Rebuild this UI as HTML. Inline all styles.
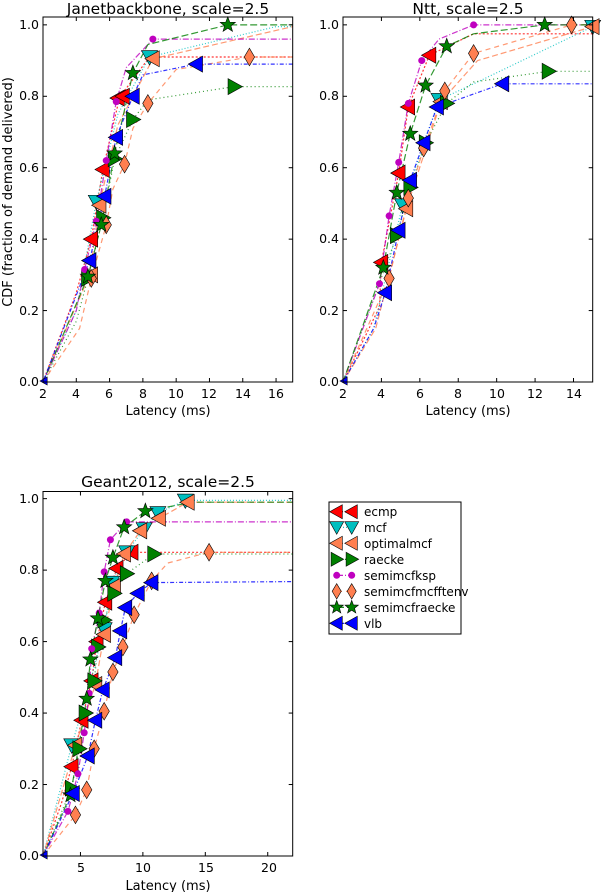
<!DOCTYPE html>
<html><head><meta charset="utf-8"><style>
html,body{margin:0;padding:0;background:#fff;}
svg{display:block;font-family:"DejaVu Sans","Liberation Sans",sans-serif;}
</style></head><body>
<svg id="s" width="603" height="892" viewBox="0 0 603 892" xmlns="http://www.w3.org/2000/svg">
<rect width="603" height="892" fill="#fff"/>
<g id="plots"></g>
<g font-size="15.5" fill="#000" text-anchor="middle">
<text x="168" y="14">Janetbackbone, scale=2.5</text>
<text x="468" y="14">Ntt, scale=2.5</text>
<text x="168" y="487">Geant2012, scale=2.5</text>
</g>
<g font-size="13" fill="#000" text-anchor="middle">
<text x="168" y="415">Latency (ms)</text>
<text x="468" y="415">Latency (ms)</text>
<text x="168" y="890">Latency (ms)</text>
<text transform="translate(12,192) rotate(-90)">CDF (fraction of demand delivered)</text>
</g>
<g font-size="12.5" fill="#000" text-anchor="end">
<text x="39" y="29">1.0</text><text x="39" y="100">0.8</text><text x="39" y="172">0.6</text><text x="39" y="243">0.4</text><text x="39" y="315">0.2</text><text x="39" y="386">0.0</text>
<text x="339" y="29">1.0</text><text x="339" y="100">0.8</text><text x="339" y="172">0.6</text><text x="339" y="243">0.4</text><text x="339" y="315">0.2</text><text x="339" y="386">0.0</text>
<text x="39" y="503">1.0</text><text x="39" y="574">0.8</text><text x="39" y="646">0.6</text><text x="39" y="717">0.4</text><text x="39" y="789">0.2</text><text x="39" y="860">0.0</text>
</g>
<g font-size="12.5" fill="#000" text-anchor="middle">
<text x="43" y="398">2</text><text x="76" y="398">4</text><text x="109" y="398">6</text><text x="143" y="398">8</text><text x="176" y="398">10</text><text x="209" y="398">12</text><text x="243" y="398">14</text><text x="276" y="398">16</text>
<text x="343" y="398">2</text><text x="381" y="398">4</text><text x="420" y="398">6</text><text x="458" y="398">8</text><text x="497" y="398">10</text><text x="535" y="398">12</text><text x="574" y="398">14</text>
<text x="81" y="872">5</text><text x="143" y="872">10</text><text x="206" y="872">15</text><text x="269" y="872">20</text>
</g>
<rect x="329" y="502" width="132" height="132" fill="#fff" stroke="#000" stroke-width="1"/>
<g id="leg"></g>
<g font-size="12" fill="#000">
<text x="364" y="516">ecmp</text>
<text x="364" y="532">mcf</text>
<text x="364" y="548">optimalmcf</text>
<text x="364" y="564">raecke</text>
<text x="364" y="580">semimcfksp</text>
<text x="364" y="596">semimcfmcfftenv</text>
<text x="364" y="612">semimcfraecke</text>
<text x="364" y="628">vlb</text>
</g>
</svg>
<script>
var NS="http://www.w3.org/2000/svg";
function el(p,t,a){var e=document.createElementNS(NS,t);for(var k in a)e.setAttribute(k,a[k]);p.appendChild(e);return e;}
var S={
ecmp:{c:"#ff0000",m:"L",d:"2,2"},
mcf:{c:"#00bfbf",m:"V",d:"1,2"},
opt:{c:"#ff7f50",m:"L",d:"6,3"},
rae:{c:"#008000",m:"R",d:"1,3"},
ksp:{c:"#bf00bf",m:"O",d:"6,2,1,2"},
dia:{c:"#ff7f50",m:"D",d:"5,4"},
star:{c:"#008000",m:"S",d:"7,3"},
vlb:{c:"#0000ff",m:"L",d:"1,2,4,2"}
};
function marker(g,m,x,y,c,r){
 r=r||8;var a={fill:c,stroke:"#000","stroke-width":0.6};
 if(m=="L"){a.points=(x-r)+","+y+" "+(x+r*0.8)+","+(y-r)+" "+(x+r*0.8)+","+(y+r);el(g,"polygon",a);}
 else if(m=="R"){a.points=(x+r)+","+y+" "+(x-r*0.8)+","+(y-r)+" "+(x-r*0.8)+","+(y+r);el(g,"polygon",a);}
 else if(m=="V"){a.points=(x-r)+","+(y-r*0.8)+" "+(x+r)+","+(y-r*0.8)+" "+x+","+(y+r);el(g,"polygon",a);}
 else if(m=="D"){a.points=x+","+(y-r*1.1)+" "+(x+r*0.65)+","+y+" "+x+","+(y+r*1.1)+" "+(x-r*0.65)+","+y;el(g,"polygon",a);}
 else if(m=="O"){a.cx=x;a.cy=y;a.r=3.5;a.stroke="none";el(g,"circle",a);}
 else if(m=="S"){var p=[];for(var i=0;i<10;i++){var ang=-Math.PI/2+i*Math.PI/5,rr=i%2?r*0.42:r;p.push((x+rr*Math.cos(ang))+","+(y+rr*Math.sin(ang)));}a.points=p.join(" ");el(g,"polygon",a);}
}
var P=[
{x0:43,x1:292.7,xa:2,xb:17,y0:382,yt:17,ymax:1.022,xt:[2,4,6,8,10,12,14,16],
D:{
ecmp:[[2,0],[4,0.25],[4.9,0.4],[5.6,0.595],[6.6,0.797],[8.4,0.91],[17,0.91]],
mcf:[[2,0],[4,0.2],[5.2,0.505],[6.5,0.75],[8.4,0.91],[16,0.995],[17,0.995]],
opt:[[2,0],[4.8,0.3],[5.4,0.5],[6.5,0.72],[8.6,0.905],[17,0.995]],
rae:[[2,0],[4,0.17],[4.7,0.29],[5.6,0.46],[6.3,0.625],[7.4,0.735],[8.3,0.79],[13.5,0.827],[17,0.827]],
ksp:[[2,0],[4,0.2],[4.5,0.315],[5.2,0.45],[5.8,0.62],[6.4,0.785],[7,0.88],[8.6,0.96],[17,0.96]],
dia:[[2,0],[4.2,0.15],[4.9,0.29],[5.8,0.44],[6.2,0.54],[6.9,0.61],[7.4,0.71],[8.3,0.78],[10,0.875],[14.4,0.91],[17,0.91]],
star:[[2,0],[4.7,0.295],[5.5,0.44],[6.3,0.64],[7.4,0.865],[8.3,0.945],[13.1,1.0],[17,1.0]],
vlb:[[2,0],[4.8,0.34],[5.7,0.52],[6.4,0.685],[7.4,0.8],[8,0.86],[11.2,0.89],[17,0.89]]},
M:{ecmp:[[4.9,0.4],[5.6,0.595],[6.5,0.795],[6.8,0.8]],mcf:[[5.2,0.505],[8.4,0.91]],opt:[[4.9,0.3],[5.4,0.495],[8.6,0.905]],
rae:[[4.7,0.29],[5.6,0.46],[6.3,0.625],[7.4,0.735],[13.5,0.827]],ksp:[[4.5,0.315],[5.2,0.45],[5.8,0.62],[6.4,0.785],[8.6,0.96]],
dia:[[4.9,0.29],[5.8,0.44],[6.9,0.61],[8.3,0.78],[14.4,0.91]],star:[[4.7,0.295],[5.5,0.44],[6.3,0.64],[7.4,0.865],[13.1,1.0]],
vlb:[[4.8,0.34],[5.7,0.52],[6.4,0.685],[7.4,0.8],[11.2,0.89]]}},
{x0:343,x1:592.7,xa:2,xb:15,y0:382,yt:17,ymax:1.022,xt:[2,4,6,8,10,12,14],
D:{
ecmp:[[2,0],[3.9,0.21],[4.0,0.335],[4.9,0.585],[5.4,0.77],[6.5,0.915],[8.8,0.975],[15,0.975]],
mcf:[[2,0],[3.6,0.15],[5.1,0.495],[7.0,0.79],[9,0.84],[15,0.995]],
opt:[[2,0],[3.7,0.15],[5.3,0.485],[7.1,0.785],[9,0.9],[15,0.995]],
rae:[[2,0],[4.8,0.41],[5.5,0.545],[6.3,0.67],[7.4,0.78],[8.8,0.84],[12.7,0.87],[15,0.87]],
ksp:[[2,0],[3.9,0.275],[4.4,0.465],[4.9,0.615],[5.4,0.78],[6.1,0.9],[7,0.96],[8.8,1.0],[15,1.0]],
dia:[[2,0],[4.4,0.29],[5.4,0.515],[6.2,0.655],[7.3,0.815],[8.8,0.92],[13.9,1.0],[15,1.0]],
star:[[2,0],[4.1,0.32],[4.8,0.53],[5.5,0.695],[6.3,0.83],[7.4,0.94],[8.8,0.975],[12.5,1.0],[15,1.0]],
vlb:[[2,0],[3.6,0.15],[4.2,0.25],[4.9,0.425],[5.5,0.565],[6.2,0.67],[6.9,0.77],[10.3,0.835],[15,0.835]]},
M:{ecmp:[[4.0,0.335],[4.9,0.585],[5.4,0.77],[6.5,0.915]],mcf:[[5.1,0.495],[7.0,0.79],[15,0.995]],opt:[[5.3,0.485],[7.1,0.785],[15,0.995]],
rae:[[4.8,0.41],[5.5,0.545],[6.3,0.67],[7.4,0.78],[12.7,0.87]],ksp:[[3.9,0.275],[4.4,0.465],[4.9,0.615],[5.4,0.78],[6.1,0.9],[8.8,1.0]],
dia:[[4.4,0.29],[5.4,0.515],[6.2,0.655],[7.3,0.815],[8.8,0.92],[13.9,1.0]],star:[[4.1,0.32],[4.8,0.53],[5.5,0.695],[6.3,0.83],[7.4,0.94],[12.5,1.0]],
vlb:[[4.2,0.25],[4.9,0.425],[5.5,0.565],[6.2,0.67],[6.9,0.77],[10.3,0.835]]}},
{x0:43,x1:292.7,xa:2,xb:22,y0:856,yt:491.5,ymax:1.02,xt:[5,10,15,20],
D:{
ecmp:[[2,0],[3.5,0.15],[4.3,0.25],[5.1,0.38],[5.9,0.49],[6.3,0.6],[7.0,0.71],[7.9,0.805],[9.1,0.85],[22,0.85]],
mcf:[[2,0],[4.3,0.31],[5.5,0.45],[6.9,0.635],[7.5,0.765],[8.7,0.85],[10.1,0.915],[11.2,0.96],[13.4,0.995],[22,0.995]],
opt:[[2,0],[4.6,0.31],[6.2,0.48],[6.9,0.62],[7.7,0.755],[8.5,0.845],[9.8,0.91],[11.3,0.945],[13.6,0.99],[22,0.99]],
rae:[[2,0],[4.3,0.19],[4.9,0.3],[5.4,0.4],[6.1,0.49],[6.4,0.585],[6.9,0.66],[7.7,0.735],[8.7,0.79],[10.9,0.845],[22,0.845]],
ksp:[[2,0],[4.0,0.125],[4.8,0.23],[5.3,0.345],[5.7,0.455],[5.9,0.58],[6.5,0.68],[6.9,0.795],[7.4,0.885],[8.7,0.935],[22,0.935]],
dia:[[2,0],[4.6,0.115],[5.5,0.185],[6.1,0.3],[6.9,0.405],[7.6,0.515],[8.4,0.585],[9.3,0.675],[10.7,0.77],[12,0.82],[15.3,0.85],[22,0.85]],
star:[[2,0],[4.2,0.17],[5.5,0.44],[5.8,0.55],[6.4,0.665],[7.0,0.77],[7.6,0.835],[8.5,0.92],[10.2,0.965],[14,0.99],[22,0.99]],
vlb:[[2,0],[4.4,0.175],[5.6,0.28],[6.2,0.38],[6.8,0.465],[7.8,0.555],[8.2,0.63],[8.6,0.695],[9.6,0.735],[10.7,0.765],[22,0.768]]},
M:{ecmp:[[4.3,0.25],[5.1,0.38],[5.9,0.49],[6.3,0.6],[7.0,0.71],[7.9,0.805],[9.1,0.85]],
mcf:[[4.3,0.31],[6.9,0.635],[7.5,0.765],[8.7,0.85],[10.1,0.915],[11.2,0.96],[13.4,0.995]],
opt:[[4.6,0.31],[6.2,0.48],[6.9,0.62],[7.7,0.755],[8.5,0.845],[9.8,0.91],[11.3,0.945],[13.6,0.99]],
rae:[[4.3,0.19],[4.9,0.3],[5.4,0.4],[6.1,0.49],[6.4,0.585],[6.9,0.66],[7.7,0.735],[8.7,0.79],[10.9,0.845]],
ksp:[[4.0,0.125],[4.8,0.23],[5.3,0.345],[5.7,0.455],[5.9,0.58],[6.5,0.68],[6.9,0.795],[7.4,0.885],[8.7,0.935]],
dia:[[4.6,0.115],[5.5,0.185],[6.1,0.3],[6.9,0.405],[7.6,0.515],[8.4,0.585],[9.3,0.675],[10.7,0.77],[15.3,0.85]],
star:[[4.2,0.17],[5.5,0.44],[5.8,0.55],[6.4,0.665],[7.0,0.77],[7.6,0.835],[8.5,0.92],[10.2,0.965]],
vlb:[[4.4,0.175],[5.6,0.28],[6.2,0.38],[6.8,0.465],[7.8,0.555],[8.2,0.63],[8.6,0.695],[9.6,0.735],[10.7,0.765]]}}
];
var G=document.getElementById("plots");
var order=["ecmp","mcf","opt","rae","ksp","dia","star","vlb"];
P.forEach(function(p){
 var sx=function(x){return p.x0+(x-p.xa)/(p.xb-p.xa)*(p.x1-p.x0);};
 var py=(p.y0-p.yt)/p.ymax;
 var sy=function(y){return p.y0-y*py;};
 var g=el(G,"g",{});
 order.forEach(function(k){var pts=p.D[k].map(function(q){return sx(q[0]).toFixed(1)+","+sy(q[1]).toFixed(1);}).join(" ");
  el(g,"polyline",{points:pts,fill:"none",stroke:S[k].c,"stroke-width":1.2,"stroke-dasharray":S[k].d,opacity:0.8});});
 order.forEach(function(k){p.M[k].forEach(function(q){marker(g,S[k].m,sx(q[0]),sy(q[1]),S[k].c);});});
 marker(g,"L",sx(p.xa)+1,p.y0-1,"#0000ff",4);
 el(g,"rect",{x:p.x0,y:p.yt,width:p.x1-p.x0,height:p.y0-p.yt,fill:"none",stroke:"#000","stroke-width":1});
 for(var v=0;v<=1.001;v+=0.2){var y=sy(v);el(g,"line",{x1:p.x0,x2:p.x0+4,y1:y,y2:y,stroke:"#000"});el(g,"line",{x1:p.x1-4,x2:p.x1,y1:y,y2:y,stroke:"#000"});}
 p.xt.forEach(function(t){var x=sx(t);el(g,"line",{x1:x,x2:x,y1:p.y0,y2:p.y0-4,stroke:"#000"});el(g,"line",{x1:x,x2:x,y1:p.yt,y2:p.yt+4,stroke:"#000"});});
});
var L=document.getElementById("leg");
var ly=[511.7,527.3,543.3,559.3,575.3,591.3,607.3,623.3];
order.forEach(function(k,i){el(L,"line",{x1:337,x2:352,y1:ly[i],y2:ly[i],stroke:S[k].c,"stroke-width":1.2,"stroke-dasharray":S[k].d});
 marker(L,S[k].m,336.7,ly[i],S[k].c,7);marker(L,S[k].m,351.7,ly[i],S[k].c,7);});
</script>
</body></html>
